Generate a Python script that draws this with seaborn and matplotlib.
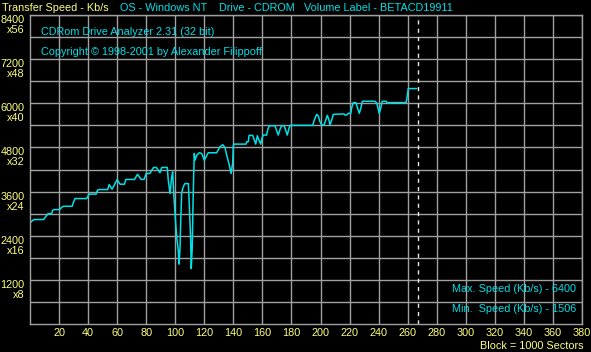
import numpy as np
import pandas as pd
import matplotlib
matplotlib.use("Agg")
import matplotlib.pyplot as plt
import seaborn as sns

# ---- data ----
block = [0.5, 2, 3, 9.5, 10, 12.5, 15, 15.5, 16.5, 20.5,
         21.5, 23, 29, 30, 31, 39, 40, 40.5, 45.5, 46.5,
         47.5, 53.5, 54.5, 55.5, 56.5, 58, 58.5, 60, 62, 65,
         66, 72, 74, 76.5, 78.5, 80, 82.5, 85, 87, 89.5,
         90.7, 94.5, 95.2, 96.4, 97.5, 98.2, 98.6, 99.1, 100.3, 101,
         102.1, 102.6, 103.3, 103.7, 104.4, 105.1, 106, 106.7, 109, 109.7,
         110.6, 111, 111.7, 112.2, 112.7, 113.1, 113.6, 114.8, 116.5, 118.2,
         120, 121.2, 122.7, 128.5, 130.8, 132.7, 134.2, 135.4, 137.2, 138.4,
         139.5, 140, 140.6, 148.7, 149.2, 150.3, 150.8, 153.3, 154.4, 155.4,
         156.5, 157.6, 158.8, 159.9, 160.6, 162.9, 163.6, 164.7, 168.7, 169.8,
         170.9, 172.1, 173.2, 174.9, 176, 177.1, 178.3, 179, 194.6, 195.7,
         197.4, 198.5, 199.6, 200.8, 202.4, 203.6, 204.7, 205.8, 206.5, 207.7,
         208.8, 216.2, 216.8, 218, 219.1, 220.8, 221.5, 222.6, 224.4, 225.3,
         226.7, 227.9, 228.8, 237.5, 238.7, 239.8, 240.4, 241.4, 242.5, 245.1,
         245.6, 258.8, 259.3, 260.4, 260.9, 266.2]
speed = [2770, 2820, 2840, 2840, 2880, 3000, 3000, 3090, 3110, 3110,
         3160, 3200, 3200, 3320, 3410, 3410, 3480, 3530, 3530, 3640,
         3655, 3655, 3790, 3725, 3663, 3780, 3820, 3930, 3800, 3800,
         3930, 3930, 4070, 3930, 3930, 4090, 4090, 4255, 4255, 4110,
         4255, 4255, 3908, 3545, 3990, 4135, 3818, 3454, 2727, 2363,
         1990, 1627, 2090, 2727, 3545, 3680, 3772, 3818, 3818, 3200,
         2290, 1506, 2090, 3200, 4090, 4636, 4454, 4590, 4655, 4636,
         4454, 4545, 4655, 4655, 4818, 4873, 4800, 4590, 4318, 4090,
         4363, 4863, 4890, 4890, 4954, 4954, 5127, 5127, 5000, 4890,
         5118, 5000, 4890, 5072, 5136, 5136, 5272, 5390, 5390, 5254,
         5136, 5290, 5390, 5390, 5272, 5136, 5318, 5400, 5400, 5545,
         5700, 5654, 5500, 5410, 5410, 5545, 5672, 5545, 5410, 5545,
         5700, 5710, 5680, 5680, 5727, 5727, 5890, 6018, 6018, 5890,
         5727, 5890, 6055, 6055, 6010, 5827, 5727, 5860, 6055, 6055,
         6018, 6018, 6090, 6400, 6400, 6400]
end_block = 267
ytick_values = [1200, 2400, 3600, 4800, 6000, 7200, 8400]
ytick_labels = ["1200\nx8", "2400\nx16", "3600\nx24", "4800\nx32",
                "6000\nx40", "7200\nx48", "8400\nx56"]
xtick_values = list(range(20, 381, 20))
xtick_labels = [str(v) for v in xtick_values]
max_speed = 6400
min_speed = 1506

df = pd.DataFrame({"block": block, "speed": speed})

# ---- style ----
BG = "#000000"
GRID = "#a0a0a0"
CYAN = "#00e0e8"
YELLOW = "#ffff80"

sns.set_theme(style="dark", rc={
    "figure.facecolor": BG, "axes.facecolor": BG,
    "axes.edgecolor": GRID, "grid.color": GRID,
})
plt.rcParams["font.family"] = ["Liberation Sans", "DejaVu Sans"]
FS = 7.8

fig = plt.figure(figsize=(5.91, 3.52), dpi=100)
W, H = 591, 352
ax = fig.add_axes([30 / W, (H - 324) / H, 552 / W, 309 / H])

sns.lineplot(data=df, x="block", y="speed", ax=ax, color=CYAN,
             linewidth=1.1, estimator=None, sort=False)

ax.set_xlim(0, 380)
ax.set_ylim(0, 8400)
ax.set_xticks(xtick_values, xtick_labels)
ax.set_yticks(ytick_values, ytick_labels)
ax.set_yticks(np.arange(600, 8400, 600), minor=True)
ax.grid(True, which="both", color=GRID, linewidth=1.0)
ax.tick_params(axis="both", which="both", length=0, colors=YELLOW,
               labelsize=FS)
ax.tick_params(axis="y", pad=4)
ax.tick_params(axis="x", pad=3)
for lab in ax.get_yticklabels():
    lab.set_verticalalignment("top")
    lab.set_linespacing(1.0)
for s in ax.spines.values():
    s.set_color(GRID)
    s.set_linewidth(1.0)
    s.set_visible(True)
ax.set_xlabel("")
ax.set_ylabel("")

ax.axvline(end_block, color="#e8e8e8", linewidth=1.0, linestyle=(0, (3, 3)))

# ---- texts ----
def ftext(px, py, s, color, ha="left"):
    fig.text(px / W, 1 - py / H, s, color=color, fontsize=FS, ha=ha,
             va="center")

ftext(2, 8, "Transfer Speed - Kb/s", YELLOW)
ftext(120, 8, "OS - Windows NT", CYAN)
ftext(219, 8, "Drive - CDROM", CYAN)
ftext(304, 8, "Volume Label - BETACD19911", CYAN)
ftext(41, 32, "CDRom Drive Analyzer 2.31 (32 bit)", CYAN)
ftext(41, 52, "Copyright \u00a9 1998-2001 by Alexander Filippoff", CYAN)
ftext(576, 289, f"Max. Speed (Kb/s) - {max_speed}", CYAN, ha="right")
ftext(576, 309, f"Min.  Speed (Kb/s) - {min_speed}", CYAN, ha="right")
ftext(583, 346, "Block = 1000 Sectors", YELLOW, ha="right")

fig.savefig("out.png", dpi=100, facecolor=BG)
